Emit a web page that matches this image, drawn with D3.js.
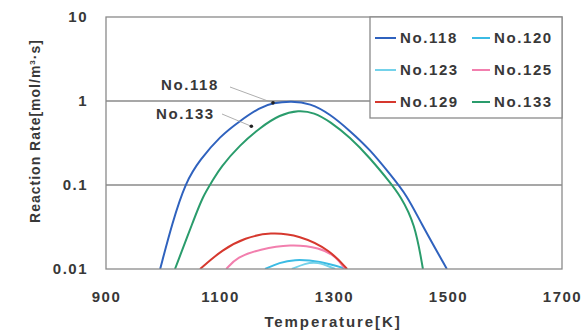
<!DOCTYPE html>
<meta charset="utf-8">
<style>
  body { margin: 0; background: #fff; }
  text { font-family: Arial, 'Liberation Sans', sans-serif; font-weight: bold; fill: #383838; }
</style>
<svg width="582" height="331"></svg>
<script src="https://d3js.org/d3.v7.min.js"></script>
<script>
// data: [temperature K, rate mol/m3.s]
var s118 = [[995, 0.01], [1016, 0.035], [1040, 0.11], [1065, 0.2], [1100, 0.38], [1135, 0.58], [1170, 0.84], [1193, 0.95], [1225, 1.0], [1258, 0.94], [1293, 0.7], [1328, 0.44], [1363, 0.265], [1400, 0.13], [1428, 0.075], [1451, 0.037], [1498, 0.01]];
var s133 = [[1021, 0.01], [1053, 0.037], [1070, 0.074], [1088, 0.115], [1100, 0.16], [1135, 0.3], [1170, 0.48], [1205, 0.69], [1238, 0.78], [1265, 0.73], [1293, 0.57], [1328, 0.37], [1363, 0.21], [1398, 0.108], [1416, 0.075], [1442, 0.035], [1456, 0.01]];
var s129 = [[1065, 0.01], [1105, 0.0172], [1144, 0.0235], [1188, 0.0275], [1240, 0.0252], [1293, 0.0168], [1323, 0.01]];
var s125 = [[1111, 0.01], [1130, 0.0139], [1170, 0.0172], [1223, 0.0198], [1275, 0.0181], [1305, 0.0139], [1319, 0.01]];
var s120 = [[1179, 0.01], [1205, 0.0119], [1228, 0.013], [1275, 0.0125], [1322, 0.01]];
var s123 = [[1226, 0.01], [1249, 0.0116], [1270, 0.0123], [1302, 0.01]];

var names = ["No.118", "No.120", "No.123", "No.125", "No.129", "No.133"];
var seriesData = [s118, s120, s123, s125, s129, s133];
var colors = ["#2f62be", "#3bbbe4", "#74d2ea", "#f27fae", "#d6382e", "#2a9c6c"];
var xTicks = [900, 1100, 1300, 1500, 1700];
var yTicks = [0.01, 0.1, 1, 10];

var svg = d3.select("svg"),
    margin = { top: 17, right: 20, bottom: 62, left: 106 },
    width = +svg.attr("width") - margin.left - margin.right,
    height = +svg.attr("height") - margin.top - margin.bottom,
    g = svg.append("g").attr("transform", "translate(" + margin.left + "," + margin.top + ")");

var x = d3.scaleLinear().domain([900, 1700]).range([0, width]);
var y = d3.scaleLog().domain([0.01, 10]).range([height, 0]);

g.append("defs").append("clipPath").attr("id", "clip")
    .append("rect").attr("width", width).attr("height", height);

// gridlines
g.selectAll(".grid").data([0.1, 1]).enter().append("line")
    .attr("x1", 0).attr("x2", width)
    .attr("y1", function (d) { return y(d); }).attr("y2", function (d) { return y(d); })
    .style("stroke", "#8a8a8a").style("stroke-width", 1.3);

var line = d3.line()
    .x(function (d) { return x(d[0]); })
    .y(function (d) { return y(d[1]); })
    .curve(d3.curveBasis);

g.append("g").attr("clip-path", "url(#clip)")
    .selectAll(".line").data(seriesData).enter().append("path")
    .attr("class", "line")
    .attr("d", line)
    .style("fill", "none")
    .style("stroke", function (d, i) { return colors[i]; })
    .style("stroke-width", 2);

// frame
g.append("rect").attr("width", width).attr("height", height)
    .style("fill", "none").style("stroke", "#8a8a8a").style("stroke-width", 1.3);

// axes (labels only, no tick marks)
var xAxis = g.append("g").attr("transform", "translate(0," + height + ")")
    .call(d3.axisBottom(x).tickValues(xTicks).tickSize(0).tickPadding(22).tickFormat(d3.format("d")));
xAxis.select(".domain").remove();
xAxis.selectAll("text").style("font-size", "15px").style("fill", "#383838").style("letter-spacing", "1.5px");

var yAxis = g.append("g")
    .call(d3.axisLeft(y).tickValues(yTicks).tickSize(0).tickPadding(18).tickFormat(function (d) { return String(d); }));
yAxis.select(".domain").remove();
yAxis.selectAll("text").style("font-size", "15px").style("fill", "#383838").style("letter-spacing", "1.5px");

svg.append("text").attr("x", 333).attr("y", 327).attr("text-anchor", "middle")
    .style("font-size", "15px").style("letter-spacing", "1.9px").text("Temperature[K]");

var yt = svg.append("text").attr("transform", "translate(40,131) rotate(-90)")
    .attr("text-anchor", "middle").style("font-size", "14px").style("letter-spacing", "1px");
yt.append("tspan").text("Reaction Rate[mol/m");
yt.append("tspan").attr("dy", -5).style("font-size", "8px").text("3");
yt.append("tspan").attr("dy", 5).text("\u00b7s]");

// callouts
function callout(label, tx, ty, pt, lx, ly) {
    svg.append("text").attr("x", tx).attr("y", ty).style("font-size", "15px").style("letter-spacing", "1.6px").text(label);
    svg.append("line").attr("x1", lx).attr("y1", ly)
        .attr("x2", margin.left + x(pt[0])).attr("y2", margin.top + y(pt[1]))
        .style("stroke", "#999").style("stroke-width", 0.8);
    svg.append("circle").attr("cx", margin.left + x(pt[0])).attr("cy", margin.top + y(pt[1]))
        .attr("r", 1.8).style("fill", "#222");
}
callout("No.118", 161, 90, [1193, 0.95], 230, 87);
callout("No.133", 156, 119, [1155, 0.5], 222, 114);

// legend
var lg = svg.append("g").attr("transform", "translate(370,17)");
lg.append("rect").attr("width", 192).attr("height", 101)
    .style("fill", "#fff").style("stroke", "#8a8a8a").style("stroke-width", 1.3);
var order = [0, 1, 2, 3, 4, 5];
var item = lg.selectAll(".item").data(order).enter().append("g")
    .attr("transform", function (d, i) { return "translate(" + (i % 2 === 0 ? 5 : 102) + "," + (21 + Math.floor(i / 2) * 32) + ")"; });
item.append("line").attr("x1", 0).attr("x2", function (d, i) { return i % 2 === 0 ? 21 : 18; })
    .style("stroke", function (d) { return colors[d]; }).style("stroke-width", 2);
item.append("text").attr("x", function (d, i) { return i % 2 === 0 ? 25 : 22; }).attr("dy", "0.36em")
    .style("font-size", "15px").style("letter-spacing", "1.6px")
    .text(function (d) { return names[d]; });
</script>
